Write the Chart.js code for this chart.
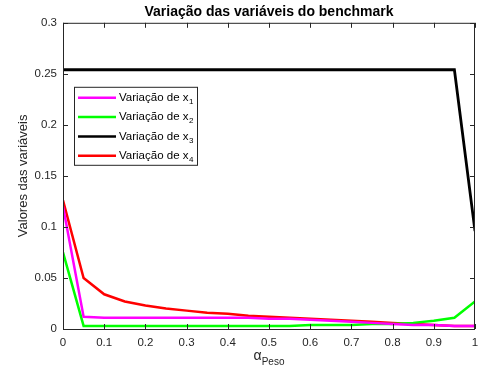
<!DOCTYPE html>
<html>
<head>
<meta charset="utf-8">
<script src="https://cdn.jsdelivr.net/npm/chart.js@4"></script>
<style>
  html, body { margin: 0; padding: 0; background: #fff; }
  #wrap { width: 482px; height: 376px; }
</style>
</head>
<body>
<div id="wrap"><canvas id="benchChart" width="482" height="376"></canvas></div>
<script>
// pesos (eixo x)
var pesos = [0, 0.05, 0.1, 0.15, 0.2, 0.25, 0.3, 0.35, 0.4, 0.45, 0.5,
             0.55, 0.6, 0.65, 0.7, 0.75, 0.8, 0.85, 0.9, 0.95, 1];
var x1 = [0.120, 0.012, 0.011, 0.011, 0.011, 0.011, 0.011, 0.011, 0.011, 0.011, 0.010,
          0.010, 0.009, 0.008, 0.007, 0.006, 0.005, 0.004, 0.004, 0.003, 0.003];
var x2 = [0.075, 0.003, 0.003, 0.003, 0.003, 0.003, 0.003, 0.003, 0.003, 0.003, 0.003,
          0.003, 0.004, 0.004, 0.004, 0.005, 0.005, 0.006, 0.008, 0.011, 0.027];
var x3 = [0.254, 0.254, 0.254, 0.254, 0.254, 0.254, 0.254, 0.254, 0.254, 0.254, 0.254,
          0.254, 0.254, 0.254, 0.254, 0.254, 0.254, 0.254, 0.254, 0.254, 0.096];
var x4 = [0.126, 0.050, 0.034, 0.027, 0.023, 0.020, 0.018, 0.016, 0.015, 0.013, 0.012,
          0.011, 0.010, 0.009, 0.008, 0.007, 0.006, 0.005, 0.004, 0.003, 0.003];
var nomes = ['1', '2', '3', '4'];
var cores = ['#ff00ff', '#00ff00', '#000000', '#ff0000'];

var axisColor = '#262626';
var fontFam = '"Liberation Sans", Arial, sans-serif';

function pts(ys) {
  return pesos.map(function (p, i) { return { x: p, y: ys[i] }; });
}

function fmt(v) {
  return String(Number(v.toFixed(2)));
}

// box, inward ticks, legend and x title drawn MATLAB-style
var matlabStyle = {
  id: 'matlabStyle',
  afterDraw: function (chart) {
    var c = chart.ctx, a = chart.chartArea;
    var xs = chart.scales.x, ys = chart.scales.y;
    c.save();
    c.strokeStyle = axisColor;
    c.lineWidth = 1;
    c.strokeRect(a.left + 0.5, a.top + 0.5, a.right - a.left - 1, a.bottom - a.top);
    c.beginPath();
    xs.ticks.forEach(function (t) {
      var px = Math.round(xs.getPixelForValue(t.value)) + 0.5;
      c.moveTo(px, a.bottom); c.lineTo(px, a.bottom - 5);
      c.moveTo(px, a.top); c.lineTo(px, a.top + 5);
    });
    ys.ticks.forEach(function (t) {
      var py = Math.round(ys.getPixelForValue(t.value)) + 0.5;
      c.moveTo(a.left, py); c.lineTo(a.left + 5, py);
      c.moveTo(a.right, py); c.lineTo(a.right - 5, py);
    });
    c.stroke();

    // legend
    var lx = a.left + 11, ly = a.top + 64, lw = 123, lh = 78;
    c.fillStyle = '#fff';
    c.fillRect(lx, ly, lw, lh);
    c.strokeStyle = axisColor;
    c.strokeRect(lx + 0.5, ly + 0.5, lw, lh);
    c.textBaseline = 'middle';
    chart.data.datasets.forEach(function (ds, i) {
      var yy = ly + 11 + i * 19.3;
      c.strokeStyle = ds.borderColor;
      c.lineWidth = 2.5;
      c.beginPath();
      c.moveTo(lx + 4, yy); c.lineTo(lx + 42, yy);
      c.stroke();
      c.fillStyle = '#000';
      c.font = '11.5px ' + fontFam;
      c.textAlign = 'left';
      var txt = 'Variação de x';
      c.fillText(txt, lx + 45, yy);
      var w = c.measureText(txt).width;
      c.font = '8px ' + fontFam;
      c.fillText(nomes[i], lx + 45 + w + 0.5, yy + 4);
    });

    // x axis title: alpha with subscript
    var cx = (a.left + a.right) / 2;
    c.fillStyle = axisColor;
    c.textBaseline = 'alphabetic';
    c.font = '14px ' + fontFam;
    var wa = c.measureText('α').width;
    c.font = '10px ' + fontFam;
    var wp = c.measureText('Peso').width;
    var sx = cx - (wa + wp) / 2;
    c.font = '14px ' + fontFam;
    c.textAlign = 'left';
    c.fillText('α', sx, a.bottom + 31);
    c.font = '10px ' + fontFam;
    c.fillText('Peso', sx + wa, a.bottom + 36);
    c.restore();
  }
};

var ctx = document.getElementById('benchChart').getContext('2d');
var benchChart = new Chart(ctx, {
  type: 'line',
  data: {
    datasets: [
      { label: 'Variação de x1', data: pts(x1), borderColor: cores[0] },
      { label: 'Variação de x2', data: pts(x2), borderColor: cores[1] },
      { label: 'Variação de x3', data: pts(x3), borderColor: cores[2], borderWidth: 2.8 },
      { label: 'Variação de x4', data: pts(x4), borderColor: cores[3] }
    ]
  },
  options: {
    responsive: false,
    animation: false,
    layout: { padding: { left: 12, right: 7, top: 0, bottom: 0 } },
    elements: {
      point: { radius: 0 },
      line: { borderWidth: 2.5, tension: 0, fill: false }
    },
    plugins: {
      legend: { display: false },
      tooltip: { enabled: false },
      title: {
        display: true,
        fullSize: false,
        text: 'Variação das variáveis do benchmark',
        color: '#000',
        font: { family: fontFam, size: 14, weight: 'bold' },
        padding: { top: 4, bottom: 2 }
      }
    },
    scales: {
      x: {
        type: 'linear',
        min: 0, max: 1,
        ticks: { stepSize: 0.1, color: axisColor, maxRotation: 0,
                 font: { family: fontFam, size: 11.5 }, padding: 7,
                 callback: fmt },
        grid: { display: false, drawTicks: false },
        border: { display: false },
        afterFit: function (s) { s.height = 47; s.paddingRight = 0; s.paddingLeft = 0; }
      },
      y: {
        min: 0, max: 0.3,
        ticks: { stepSize: 0.05, color: axisColor,
                 font: { family: fontFam, size: 11.5 }, padding: 6,
                 callback: fmt },
        grid: { display: false, drawTicks: false },
        border: { display: false },
        title: {
          display: true,
          text: 'Valores das variáveis',
          color: axisColor,
          font: { family: fontFam, size: 13 }
        },
        afterFit: function (s) { s.width = 51; }
      }
    }
  },
  plugins: [matlabStyle]
});
</script>
</body>
</html>
